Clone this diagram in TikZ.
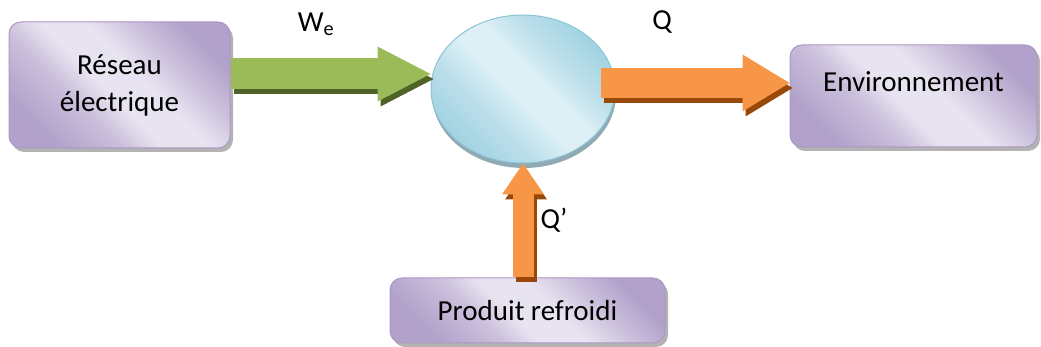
\documentclass[tikz,border=0pt]{standalone}
\usepackage{fontspec}
\setmainfont{Carlito}
\usetikzlibrary{arrows.meta,shadows,shapes.geometric}
\definecolor{L1}{RGB}{178, 162, 203}
\definecolor{L2}{RGB}{232, 227, 240}
\colorlet{LM}{L1!55!L2}
\definecolor{LB}{RGB}{170, 152, 196}
\definecolor{A1}{RGB}{162, 211, 226}
\definecolor{A2}{RGB}{222, 240, 246}
\colorlet{AM}{A1!55!A2}
\definecolor{AB}{RGB}{140, 196, 214}
\definecolor{AS}{RGB}{143, 170, 180}
\definecolor{V}{RGB}{155, 187, 89}
\definecolor{VS}{RGB}{79, 98, 40}
\definecolor{N}{RGB}{247, 150, 70}
\definecolor{NS}{RGB}{152, 72, 7}

\pgfdeclareverticalshading{lila}{100bp}{color(0bp)=(L1); color(25bp)=(L1);
  color(38bp)=(LM); color(46bp)=(L2); color(56bp)=(L2); color(66bp)=(LM);
  color(75bp)=(L1); color(100bp)=(L1)}
\pgfdeclareverticalshading{celeste}{100bp}{color(0bp)=(A1); color(25bp)=(A1);
  color(38bp)=(AM); color(47bp)=(A2); color(55bp)=(A2); color(64bp)=(AM);
  color(75bp)=(A1); color(100bp)=(A1)}

\tikzset{
  caja/.style={rectangle, rounded corners=12pt, draw=LB, line width=1pt,
    shading=lila, shading angle=-45,
    drop shadow={shadow xshift=3pt, shadow yshift=-4pt, fill=black!50, opacity=.6},
    inner sep=0pt},
  circulo/.style={ellipse, draw=AB, line width=1pt,
    shading=celeste, shading angle=-45,
    drop shadow={shadow xshift=1pt, shadow yshift=-5pt, fill=AS, opacity=1},
    minimum width=184pt, minimum height=148pt, inner sep=0pt},
  flechav/.style={line width=31pt, draw=V,
    -{Triangle[width=55pt, length=53pt, line width=0pt]}},
  flechaq/.style={line width=30pt, draw=N,
    -{Triangle[width=57pt, length=47pt, line width=0pt]}},
  flechap/.style={line width=21pt, draw=N,
    -{Triangle[width=42pt, length=31pt, line width=0pt]}},
  sombra/.style={transform canvas={xshift=3pt, yshift=-5pt}}
}

\begin{document}
\begin{tikzpicture}[x=1pt, y=1pt, font=\fontsize{29}{37}\selectfont]
  \useasboundingbox (0,0) rectangle (1041,347);

  %Cajas
  \node[caja, align=center, minimum width=221pt, minimum height=126pt] (red) at (119.5,262) {Réseau\\électrique};
  \node[caja, minimum width=247pt, text height=47pt, text depth=55pt] (env) at (913.5,251) {Environnement};
  \node[caja, minimum width=275pt, minimum height=65pt] (prod) at (527.5,36.5) {Produit refroidi};

  %El circulo del centro
  \node[circulo] (comp) at (523,258) {};

  %Flecha verde W_e
  \coordinate (a1) at ([yshift=11pt]red.east);
  \coordinate (b1) at (a1 -| comp.west);
  \draw[flechav, draw=VS, sombra] (a1) -- (b1);
  \draw[flechav] (a1) -- (b1);

  %Flecha Q hacia el entorno
  \coordinate (a2) at ([xshift=-15pt, yshift=6pt]comp.east);
  \coordinate (b2) at (a2 -| env.west);
  \draw[flechaq, draw=NS, sombra] (a2) -- (b2);
  \draw[flechaq] (a2) -- (b2);

  %Flecha Q' desde el producto
  \coordinate (a3) at (prod.north -| comp.south);
  \draw[flechap, draw=NS, sombra] (a3) -- (comp.south);
  \draw[flechap] (a3) -- (comp.south);

  %Etiquetas
  \node (lwe) at (316,323) {W\textsubscript{e}};
  \node (lq) at (662,325) {Q};
  \node (lqp) at (554,127) {Q’};
\end{tikzpicture}
\end{document}
